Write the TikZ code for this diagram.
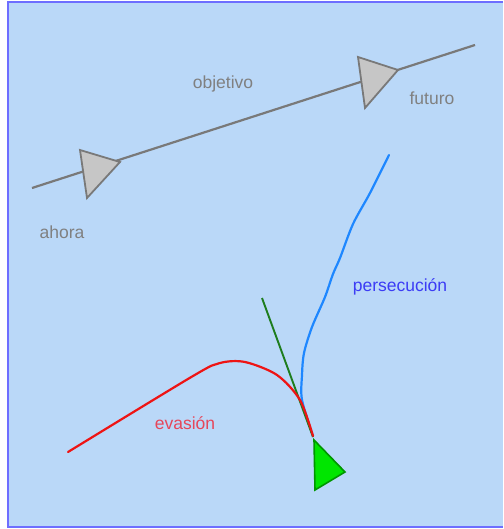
\documentclass[tikz,border=0pt]{standalone}
\usepackage{fontspec}
\setmainfont{Liberation Sans}
\begin{document}
\begin{tikzpicture}[x=1pt,y=-1pt,
  lbl/.style={font=\fontsize{17.5}{19}\selectfont,inner sep=0pt},
  grayline/.style={draw=gray!95!black,line width=2.2pt},
  graytri/.style={draw=gray!95!black,fill=gray!45,line width=1.8pt,line join=miter},
]
\definecolor{bg}{RGB}{186,216,248}
\definecolor{frame}{RGB}{110,110,255}
\definecolor{evred}{RGB}{238,20,20}
\definecolor{evtext}{RGB}{230,70,90}
\definecolor{pblue}{RGB}{30,135,255}
\definecolor{ptext}{RGB}{60,60,245}
\definecolor{tgreen}{RGB}{30,125,30}
\definecolor{trigreen}{RGB}{0,230,0}
\definecolor{tristroke}{RGB}{0,150,0}
\useasboundingbox (0,0) rectangle (503,529);
\fill[white] (0,0) rectangle (503,529);
\fill[bg] (8,2) rectangle (503,527);
\draw[frame,line width=1.5pt] (503,2) -- (8,2) -- (8,527) -- (503,527);
% objective line
\coordinate (start) at (32,188);
\coordinate (end) at (475,45);
\draw[grayline] (start) -- (end);
\draw[graytri] (80,150) -- (120,162) -- (87,198) -- cycle;
\draw[graytri] (358,57) -- (398,70) -- (365,108) -- cycle;
\node[lbl,text=gray] (ahora) at (62,232) {ahora};
\node[lbl,text=gray] (objetivo) at (223,84) {objetivo};
\node[lbl,text=gray] (futuro) at (432,98) {futuro};
% pursuit
\draw[pblue,line width=2.2pt,line cap=round] plot[smooth,tension=0.5] coordinates
  {(389,155) (370,193) (353,224) (340,258) (333,274) (325,297) (312,327) (304,353) (302,375) (302,400) (313,436)};
% tangent
\coordinate (tA) at (262,298);
\coordinate (tB) at (313,437);
\draw[tgreen,line width=1.9pt] (tA) -- (tB);
% evasion
\draw[evred,line width=2.2pt,line cap=round] plot[smooth,tension=0.5] coordinates
  {(68,452) (193,376) (220,363) (245,362) (277,375) (300,400) (313,436)};
% agent
\draw[tristroke,fill=trigreen,line width=1.6pt] (314,440) -- (345,472) -- (315,490) -- cycle;
\node[lbl,text=ptext] (persec) at (400,287) {persecución};
\node[lbl,text=evtext] (evasion) at (185,423) {evasión};
\end{tikzpicture}
\end{document}
